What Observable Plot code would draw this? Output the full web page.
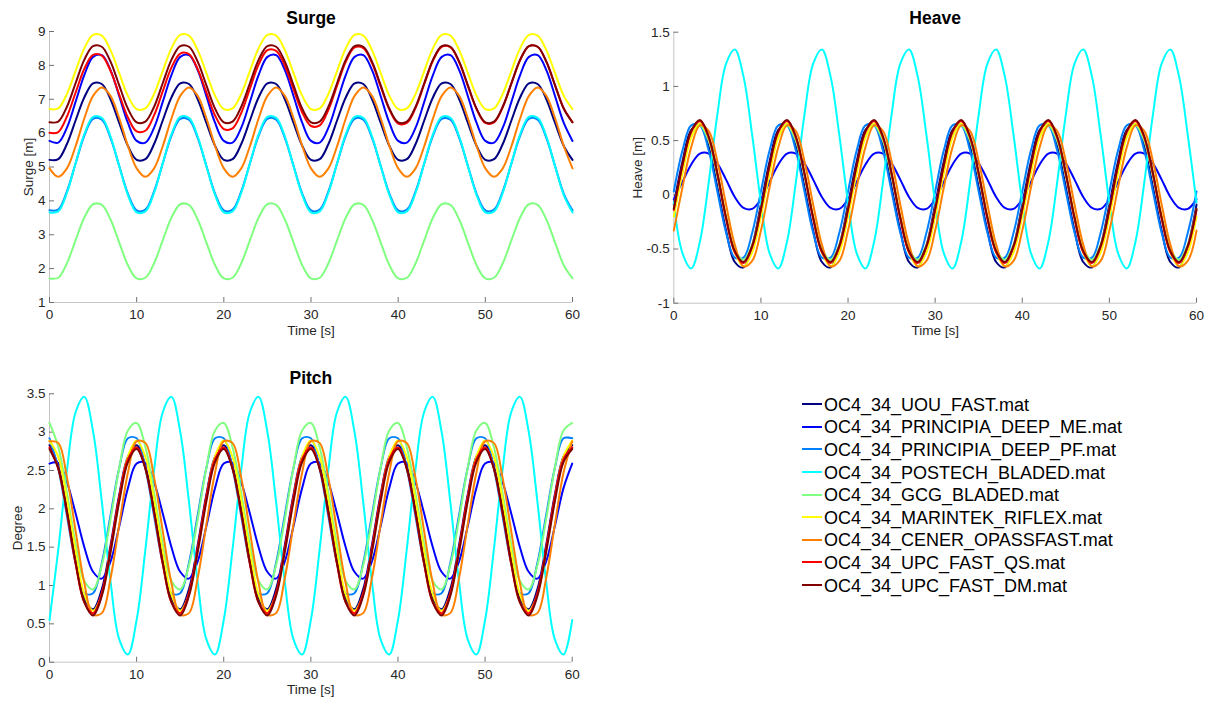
<!DOCTYPE html>
<html>
<head>
<meta charset="utf-8">
<script src="https://cdn.jsdelivr.net/npm/d3@7"></script>
<script src="https://cdn.jsdelivr.net/npm/@observablehq/plot@0.6"></script>
<style>
  html, body { margin: 0; padding: 0; background: #fff; }
  body { width: 1209px; height: 701px; position: relative; overflow: hidden; font-family: "Liberation Sans", Arial, sans-serif; }
  .panel { position: absolute; }
  #legend { position: absolute; left: 802px; top: 394px; font-family: "Liberation Sans", Arial, sans-serif; font-size: 18px; color: #000; }
  .lrow { height: 22.6px; display: flex; align-items: center; white-space: nowrap; }
  .lsw { width: 20px; height: 2px; margin-right: 2px; margin-top: -2px; }
</style>
</head>
<body>
<div id="surge" class="panel" style="left:0px;top:0px"></div>
<div id="heave" class="panel" style="left:610px;top:0px"></div>
<div id="pitch" class="panel" style="left:0px;top:360px"></div>
<div id="legend"></div>
<script>
// ---------- DATA ----------
const time = [0,1,2,3,4,5,6,7,8,9,10,11,12,13,14,15,16,17,18,19,20,21,22,23,24,25,26,27,28,29,30,
  31,32,33,34,35,36,37,38,39,40,41,42,43,44,45,46,47,48,49,50,51,52,53,54,55,56,57,58,59,60];

const seriesNames = [
  "OC4_34_UOU_FAST.mat",
  "OC4_34_PRINCIPIA_DEEP_ME.mat",
  "OC4_34_PRINCIPIA_DEEP_PF.mat",
  "OC4_34_POSTECH_BLADED.mat",
  "OC4_34_GCG_BLADED.mat",
  "OC4_34_MARINTEK_RIFLEX.mat",
  "OC4_34_CENER_OPASSFAST.mat",
  "OC4_34_UPC_FAST_QS.mat",
  "OC4_34_UPC_FAST_DM.mat"
];
const seriesColors = ["#000080", "#0000ff", "#0080ff", "#00ffff", "#80ff80", "#ffff00", "#ff8000", "#ff0000", "#800000"];

const xTicks = [0, 10, 20, 30, 40, 50, 60];
const surgeTicks = [1, 2, 3, 4, 5, 6, 7, 8, 9];
const heaveTicks = [-1, -0.5, 0, 0.5, 1, 1.5];
const pitchTicks = [0, 0.5, 1, 1.5, 2, 2.5, 3, 3.5];

// Surge [m]
const surge_UOU = [
  5.21,5.23,5.68,6.38,7.06,7.47,7.45,7.00,6.30,5.62,
  5.21,5.23,5.68,6.38,7.06,7.47,7.45,7.00,6.30,5.62,
  5.21,5.23,5.68,6.38,7.06,7.47,7.45,7.00,6.30,5.62,
  5.21,5.23,5.68,6.38,7.06,7.47,7.45,7.00,6.30,5.62,
  5.21,5.23,5.68,6.38,7.06,7.47,7.45,7.00,6.30,5.62,
  5.21,5.23,5.68,6.38,7.06,7.47,7.45,7.00,6.30,5.62,
  5.21];
const surge_ME = [
  5.77,5.72,6.16,6.93,7.72,8.25,8.30,7.86,7.09,6.30,
  5.77,5.72,6.16,6.93,7.72,8.25,8.30,7.86,7.09,6.30,
  5.77,5.72,6.16,6.93,7.72,8.25,8.30,7.86,7.09,6.30,
  5.77,5.72,6.16,6.93,7.72,8.25,8.30,7.86,7.09,6.30,
  5.77,5.72,6.16,6.93,7.72,8.25,8.30,7.86,7.09,6.30,
  5.77,5.72,6.16,6.93,7.72,8.25,8.30,7.86,7.09,6.30,
  5.77];
const surge_PF = [
  3.72,3.74,4.28,5.11,5.93,6.42,6.40,5.86,5.03,4.21,
  3.72,3.74,4.28,5.11,5.93,6.42,6.40,5.86,5.03,4.21,
  3.72,3.74,4.28,5.11,5.93,6.42,6.40,5.86,5.03,4.21,
  3.72,3.74,4.28,5.11,5.93,6.42,6.40,5.86,5.03,4.21,
  3.72,3.74,4.28,5.11,5.93,6.42,6.40,5.86,5.03,4.21,
  3.72,3.74,4.28,5.11,5.93,6.42,6.40,5.86,5.03,4.21,
  3.72];
const surge_POSTECH = [
  3.66,3.69,4.24,5.12,5.97,6.48,6.45,5.90,5.02,4.17,
  3.66,3.69,4.24,5.12,5.97,6.48,6.45,5.90,5.02,4.17,
  3.66,3.69,4.24,5.12,5.97,6.48,6.45,5.90,5.02,4.17,
  3.66,3.69,4.24,5.12,5.97,6.48,6.45,5.90,5.02,4.17,
  3.66,3.69,4.24,5.12,5.97,6.48,6.45,5.90,5.02,4.17,
  3.66,3.69,4.24,5.12,5.97,6.48,6.45,5.90,5.02,4.17,
  3.66];
const surge_GCG = [
  1.71,1.73,2.16,2.84,3.51,3.90,3.88,3.45,2.77,2.10,
  1.71,1.73,2.16,2.84,3.51,3.90,3.88,3.45,2.77,2.10,
  1.71,1.73,2.16,2.84,3.51,3.90,3.88,3.45,2.77,2.10,
  1.71,1.73,2.16,2.84,3.51,3.90,3.88,3.45,2.77,2.10,
  1.71,1.73,2.16,2.84,3.51,3.90,3.88,3.45,2.77,2.10,
  1.71,1.73,2.16,2.84,3.51,3.90,3.88,3.45,2.77,2.10,
  1.71];
const surge_MARINTEK = [
  6.71,6.73,7.16,7.84,8.51,8.90,8.88,8.45,7.77,7.10,
  6.71,6.73,7.16,7.84,8.51,8.90,8.88,8.45,7.77,7.10,
  6.71,6.73,7.16,7.84,8.51,8.90,8.88,8.45,7.77,7.10,
  6.71,6.73,7.16,7.84,8.51,8.90,8.88,8.45,7.77,7.10,
  6.71,6.73,7.16,7.84,8.51,8.90,8.88,8.45,7.77,7.10,
  6.71,6.73,7.16,7.84,8.51,8.90,8.88,8.45,7.77,7.10,
  6.71];
const surge_CENER = [
  4.96,4.71,4.96,5.62,6.44,7.10,7.35,7.10,6.44,5.62,
  4.96,4.71,4.96,5.62,6.44,7.10,7.35,7.10,6.44,5.62,
  4.96,4.71,4.96,5.62,6.44,7.10,7.35,7.10,6.44,5.62,
  4.96,4.71,4.96,5.62,6.44,7.10,7.35,7.10,6.44,5.62,
  4.96,4.71,4.96,5.62,6.44,7.10,7.35,7.10,6.44,5.62,
  4.96,4.71,4.96,5.62,6.44,7.10,7.35,7.10,6.44,5.62,
  4.96];
const surge_QS = [
  6.01,6.03,6.49,7.20,7.90,8.31,8.29,7.84,7.14,6.46,
  6.05,6.07,6.53,7.24,7.94,8.35,8.33,7.89,7.20,6.52,
  6.12,6.14,6.60,7.32,8.03,8.45,8.43,7.99,7.29,6.61,
  6.21,6.23,6.69,7.41,8.11,8.53,8.51,8.07,7.37,6.69,
  6.28,6.30,6.75,7.45,8.14,8.55,8.53,8.09,7.39,6.71,
  6.30,6.32,6.77,7.47,8.16,8.57,8.55,8.11,7.41,6.73,
  6.32];
const surge_DM = [
  6.32,6.34,6.78,7.48,8.17,8.57,8.55,8.11,7.41,6.72,
  6.32,6.34,6.78,7.48,8.17,8.57,8.55,8.11,7.41,6.72,
  6.32,6.34,6.78,7.48,8.17,8.57,8.55,8.11,7.41,6.72,
  6.32,6.34,6.78,7.48,8.17,8.57,8.55,8.11,7.41,6.72,
  6.32,6.34,6.78,7.48,8.17,8.57,8.55,8.11,7.41,6.72,
  6.32,6.34,6.78,7.48,8.17,8.57,8.55,8.11,7.41,6.72,
  6.32];

// Heave [m]
const heave_UOU = [
  -0.09,0.31,0.60,0.65,0.45,0.07,-0.33,-0.62,-0.67,-0.47,
  -0.09,0.31,0.60,0.65,0.45,0.07,-0.33,-0.62,-0.67,-0.47,
  -0.09,0.31,0.60,0.65,0.45,0.07,-0.33,-0.62,-0.67,-0.47,
  -0.09,0.31,0.60,0.65,0.45,0.07,-0.33,-0.62,-0.67,-0.47,
  -0.09,0.31,0.60,0.65,0.45,0.07,-0.33,-0.62,-0.67,-0.47,
  -0.09,0.31,0.60,0.65,0.45,0.07,-0.33,-0.62,-0.67,-0.47,
  -0.09];
const heave_ME = [
  -0.04,0.12,0.28,0.38,0.38,0.29,0.14,-0.02,-0.12,-0.13,
  -0.04,0.12,0.28,0.38,0.38,0.29,0.14,-0.02,-0.12,-0.13,
  -0.04,0.12,0.28,0.38,0.38,0.29,0.14,-0.02,-0.12,-0.13,
  -0.04,0.12,0.28,0.38,0.38,0.29,0.14,-0.02,-0.12,-0.13,
  -0.04,0.12,0.28,0.38,0.38,0.29,0.14,-0.02,-0.12,-0.13,
  -0.04,0.12,0.28,0.38,0.38,0.29,0.14,-0.02,-0.12,-0.13,
  -0.04];
const heave_PF = [
  0.03,0.41,0.64,0.64,0.41,0.03,-0.35,-0.58,-0.58,-0.35,
  0.03,0.41,0.64,0.64,0.41,0.03,-0.35,-0.58,-0.58,-0.35,
  0.03,0.41,0.64,0.64,0.41,0.03,-0.35,-0.58,-0.58,-0.35,
  0.03,0.41,0.64,0.64,0.41,0.03,-0.35,-0.58,-0.58,-0.35,
  0.03,0.41,0.64,0.64,0.41,0.03,-0.35,-0.58,-0.58,-0.35,
  0.03,0.41,0.64,0.64,0.41,0.03,-0.35,-0.58,-0.58,-0.35,
  0.03];
const heave_POSTECH = [
  -0.07,-0.54,-0.68,-0.43,0.11,0.74,1.21,1.34,1.09,0.55,
  -0.07,-0.54,-0.68,-0.43,0.11,0.74,1.21,1.34,1.09,0.55,
  -0.07,-0.54,-0.68,-0.43,0.11,0.74,1.21,1.34,1.09,0.55,
  -0.07,-0.54,-0.68,-0.43,0.11,0.74,1.21,1.34,1.09,0.55,
  -0.07,-0.54,-0.68,-0.43,0.11,0.74,1.21,1.34,1.09,0.55,
  -0.07,-0.54,-0.68,-0.43,0.11,0.74,1.21,1.34,1.09,0.55,
  -0.07];
const heave_GCG = [
  -0.13,0.25,0.54,0.64,0.50,0.17,-0.21,-0.50,-0.60,-0.46,
  -0.13,0.25,0.54,0.64,0.50,0.17,-0.21,-0.50,-0.60,-0.46,
  -0.13,0.25,0.54,0.64,0.50,0.17,-0.21,-0.50,-0.60,-0.46,
  -0.13,0.25,0.54,0.64,0.50,0.17,-0.21,-0.50,-0.60,-0.46,
  -0.13,0.25,0.54,0.64,0.50,0.17,-0.21,-0.50,-0.60,-0.46,
  -0.13,0.25,0.54,0.64,0.50,0.17,-0.21,-0.50,-0.60,-0.46,
  -0.13];
const heave_MARINTEK = [
  -0.20,0.20,0.53,0.66,0.53,0.20,-0.20,-0.53,-0.66,-0.53,
  -0.20,0.20,0.53,0.66,0.53,0.20,-0.20,-0.53,-0.66,-0.53,
  -0.20,0.20,0.53,0.66,0.53,0.20,-0.20,-0.53,-0.66,-0.53,
  -0.20,0.20,0.53,0.66,0.53,0.20,-0.20,-0.53,-0.66,-0.53,
  -0.20,0.20,0.53,0.66,0.53,0.20,-0.20,-0.53,-0.66,-0.53,
  -0.20,0.20,0.53,0.66,0.53,0.20,-0.20,-0.53,-0.66,-0.53,
  -0.20];
const heave_CENER = [
  -0.33,0.07,0.44,0.64,0.59,0.31,-0.09,-0.46,-0.66,-0.61,
  -0.33,0.07,0.44,0.64,0.59,0.31,-0.09,-0.46,-0.66,-0.61,
  -0.33,0.07,0.44,0.64,0.59,0.31,-0.09,-0.46,-0.66,-0.61,
  -0.33,0.07,0.44,0.64,0.59,0.31,-0.09,-0.46,-0.66,-0.61,
  -0.33,0.07,0.44,0.64,0.59,0.31,-0.09,-0.46,-0.66,-0.61,
  -0.33,0.07,0.44,0.64,0.59,0.31,-0.09,-0.46,-0.66,-0.61,
  -0.33];
const heave_QS = [
  -0.14,0.27,0.58,0.68,0.53,0.19,-0.22,-0.53,-0.63,-0.48,
  -0.14,0.27,0.58,0.68,0.53,0.19,-0.22,-0.53,-0.63,-0.48,
  -0.14,0.27,0.58,0.68,0.53,0.19,-0.22,-0.53,-0.63,-0.48,
  -0.14,0.27,0.58,0.68,0.53,0.19,-0.22,-0.53,-0.63,-0.48,
  -0.14,0.27,0.58,0.68,0.53,0.19,-0.22,-0.53,-0.63,-0.48,
  -0.14,0.27,0.58,0.68,0.53,0.19,-0.22,-0.53,-0.63,-0.48,
  -0.14];
const heave_DM = [
  -0.13,0.28,0.59,0.69,0.54,0.20,-0.21,-0.52,-0.62,-0.47,
  -0.13,0.28,0.59,0.69,0.54,0.20,-0.21,-0.52,-0.62,-0.47,
  -0.13,0.28,0.59,0.69,0.54,0.20,-0.21,-0.52,-0.62,-0.47,
  -0.13,0.28,0.59,0.69,0.54,0.20,-0.21,-0.52,-0.62,-0.47,
  -0.13,0.28,0.59,0.69,0.54,0.20,-0.21,-0.52,-0.62,-0.47,
  -0.13,0.28,0.59,0.69,0.54,0.20,-0.21,-0.52,-0.62,-0.47,
  -0.13];

// Pitch [deg]
const pitch_UOU = [
  2.83,2.56,1.99,1.33,0.83,0.69,0.95,1.52,2.18,2.68,
  2.83,2.56,1.99,1.33,0.83,0.69,0.95,1.52,2.18,2.68,
  2.83,2.56,1.99,1.33,0.83,0.69,0.95,1.52,2.18,2.68,
  2.83,2.56,1.99,1.33,0.83,0.69,0.95,1.52,2.18,2.68,
  2.83,2.56,1.99,1.33,0.83,0.69,0.95,1.52,2.18,2.68,
  2.83,2.56,1.99,1.33,0.83,0.69,0.95,1.52,2.18,2.68,
  2.83];
const pitch_ME = [
  2.59,2.60,2.35,1.94,1.50,1.18,1.09,1.31,1.77,2.27,
  2.59,2.60,2.35,1.94,1.50,1.18,1.09,1.31,1.77,2.27,
  2.59,2.60,2.35,1.94,1.50,1.18,1.09,1.31,1.77,2.27,
  2.59,2.60,2.35,1.94,1.50,1.18,1.09,1.31,1.77,2.27,
  2.59,2.60,2.35,1.94,1.50,1.18,1.09,1.31,1.77,2.27,
  2.59,2.60,2.35,1.94,1.50,1.18,1.09,1.31,1.77,2.27,
  2.59];
const pitch_PF = [
  2.92,2.53,1.91,1.29,0.90,0.90,1.29,1.91,2.53,2.92,
  2.92,2.53,1.91,1.29,0.90,0.90,1.29,1.91,2.53,2.92,
  2.92,2.53,1.91,1.29,0.90,0.90,1.29,1.91,2.53,2.92,
  2.92,2.53,1.91,1.29,0.90,0.90,1.29,1.91,2.53,2.92,
  2.92,2.53,1.91,1.29,0.90,0.90,1.29,1.91,2.53,2.92,
  2.92,2.53,1.91,1.29,0.90,0.90,1.29,1.91,2.53,2.92,
  2.92];
const pitch_POSTECH = [
  0.55,1.46,2.50,3.26,3.46,3.01,2.10,1.06,0.30,0.10,
  0.55,1.46,2.50,3.26,3.46,3.01,2.10,1.06,0.30,0.10,
  0.55,1.46,2.50,3.26,3.46,3.01,2.10,1.06,0.30,0.10,
  0.55,1.46,2.50,3.26,3.46,3.01,2.10,1.06,0.30,0.10,
  0.55,1.46,2.50,3.26,3.46,3.01,2.10,1.06,0.30,0.10,
  0.55,1.46,2.50,3.26,3.46,3.01,2.10,1.06,0.30,0.10,
  0.55];
const pitch_GCG = [
  3.12,2.81,2.21,1.54,1.06,0.95,1.26,1.86,2.53,3.02,
  3.12,2.81,2.21,1.54,1.06,0.95,1.26,1.86,2.53,3.02,
  3.12,2.81,2.21,1.54,1.06,0.95,1.26,1.86,2.53,3.02,
  3.12,2.81,2.21,1.54,1.06,0.95,1.26,1.86,2.53,3.02,
  3.12,2.81,2.21,1.54,1.06,0.95,1.26,1.86,2.53,3.02,
  3.12,2.81,2.21,1.54,1.06,0.95,1.26,1.86,2.53,3.02,
  3.12];
const pitch_MARINTEK = [
  2.89,2.68,2.12,1.44,0.88,0.67,0.88,1.44,2.12,2.68,
  2.89,2.68,2.12,1.44,0.88,0.67,0.88,1.44,2.12,2.68,
  2.89,2.68,2.12,1.44,0.88,0.67,0.88,1.44,2.12,2.68,
  2.89,2.68,2.12,1.44,0.88,0.67,0.88,1.44,2.12,2.68,
  2.89,2.68,2.12,1.44,0.88,0.67,0.88,1.44,2.12,2.68,
  2.89,2.68,2.12,1.44,0.88,0.67,0.88,1.44,2.12,2.68,
  2.89];
const pitch_CENER = [
  2.88,2.86,2.41,1.71,1.03,0.62,0.64,1.09,1.79,2.47,
  2.88,2.86,2.41,1.71,1.03,0.62,0.64,1.09,1.79,2.47,
  2.88,2.86,2.41,1.71,1.03,0.62,0.64,1.09,1.79,2.47,
  2.88,2.86,2.41,1.71,1.03,0.62,0.64,1.09,1.79,2.47,
  2.88,2.86,2.41,1.71,1.03,0.62,0.64,1.09,1.79,2.47,
  2.88,2.86,2.41,1.71,1.03,0.62,0.64,1.09,1.79,2.47,
  2.88];
const pitch_QS = [
  2.80,2.53,1.95,1.28,0.78,0.64,0.90,1.48,2.15,2.65,
  2.80,2.53,1.95,1.28,0.78,0.64,0.90,1.48,2.15,2.65,
  2.80,2.53,1.95,1.28,0.78,0.64,0.90,1.48,2.15,2.65,
  2.80,2.53,1.95,1.28,0.78,0.64,0.90,1.48,2.15,2.65,
  2.80,2.53,1.95,1.28,0.78,0.64,0.90,1.48,2.15,2.65,
  2.80,2.53,1.95,1.28,0.78,0.64,0.90,1.48,2.15,2.65,
  2.80];
const pitch_DM = [
  2.78,2.53,1.97,1.30,0.78,0.61,0.86,1.43,2.09,2.61,
  2.78,2.53,1.97,1.30,0.78,0.61,0.86,1.43,2.09,2.61,
  2.78,2.53,1.97,1.30,0.78,0.61,0.86,1.43,2.09,2.61,
  2.78,2.53,1.97,1.30,0.78,0.61,0.86,1.43,2.09,2.61,
  2.78,2.53,1.97,1.30,0.78,0.61,0.86,1.43,2.09,2.61,
  2.78,2.53,1.97,1.30,0.78,0.61,0.86,1.43,2.09,2.61,
  2.78];

// ---------- BUILD ----------
function toRows(arrays) {
  return arrays.flatMap((arr, i) => arr.map((v, j) => ({t: time[j], v, s: seriesNames[i]})));
}

const FONT = "'Liberation Sans', Arial, Helvetica, sans-serif";
const TXT = "#262626";

function panel(id, cfg) {
  const {rows, yDomain, yTicks, title, yLabel, width, height, mL, mR, mT, mB, yLabelDx, titleDy} = cfg;
  const plotW = width - mL - mR, plotH = height - mT - mB;
  const fmt = d => String(d);
  const chart = Plot.plot({
    width, height,
    marginLeft: mL, marginRight: mR, marginTop: mT, marginBottom: mB,
    style: {fontFamily: FONT, fontSize: "13.5px", color: TXT, background: "#fff", overflow: "visible"},
    x: {domain: [0, 60]},
    y: {domain: yDomain},
    color: {domain: seriesNames, range: seriesColors},
    marks: [
      Plot.ruleX([0], {stroke: "#c4c4c4", strokeWidth: 1}),
      Plot.ruleY([yDomain[0]], {stroke: "#c4c4c4", strokeWidth: 1}),
      Plot.tickY(yTicks, {y: d => d, insetRight: plotW - 5, stroke: "#707070", strokeWidth: 1}),
      Plot.tickX(xTicks, {x: d => d, insetTop: plotH - 5, stroke: "#707070", strokeWidth: 1}),
      Plot.line(rows, {x: "t", y: "v", z: "s", stroke: "s", strokeWidth: 2, curve: "catmull-rom"}),
      Plot.axisX({ticks: xTicks, tickSize: 0, tickPadding: 7, tickFormat: fmt, label: null, fill: TXT, fontSize: 13.5}),
      Plot.axisY({ticks: yTicks, tickSize: 0, tickPadding: 4, tickFormat: fmt, label: null, fill: TXT, fontSize: 13.5}),
      Plot.text([title], {text: d => d, frameAnchor: "top", dy: titleDy, lineAnchor: "bottom", textAnchor: "middle", fontWeight: "bold", fontSize: 17.5, fill: "#000"}),
      Plot.text(["Time [s]"], {text: d => d, frameAnchor: "bottom", dy: 32, textAnchor: "middle", fontSize: 13.5, fill: TXT}),
      Plot.text([yLabel], {text: d => d, frameAnchor: "left", dx: yLabelDx, rotate: -90, textAnchor: "middle", lineAnchor: "middle", fontSize: 13.5, fill: TXT})
    ]
  });
  document.getElementById(id).appendChild(chart);
}

panel("surge", {
  rows: toRows([surge_UOU, surge_ME, surge_PF, surge_POSTECH, surge_GCG, surge_MARINTEK, surge_CENER, surge_QS, surge_DM]),
  yDomain: [1, 9], yTicks: surgeTicks, title: "Surge", yLabel: "Surge [m]",
  width: 600, height: 345, mL: 49, mR: 28, mT: 31, mB: 43, yLabelDx: -20.7, titleDy: -8
});
panel("heave", {
  rows: toRows([heave_UOU, heave_ME, heave_PF, heave_POSTECH, heave_GCG, heave_MARINTEK, heave_CENER, heave_QS, heave_DM]),
  yDomain: [-1, 1.5], yTicks: heaveTicks, title: "Heave", yLabel: "Heave [m]",
  width: 599, height: 345, mL: 63.3, mR: 13, mT: 31.7, mB: 42.3, yLabelDx: -36.6, titleDy: -8.5
});
panel("pitch", {
  rows: toRows([pitch_UOU, pitch_ME, pitch_PF, pitch_POSTECH, pitch_GCG, pitch_MARINTEK, pitch_CENER, pitch_QS, pitch_DM]),
  yDomain: [0, 3.5], yTicks: pitchTicks, title: "Pitch", yLabel: "Degree",
  width: 600, height: 341, mL: 49, mR: 28.3, mT: 33.3, mB: 39.3, yLabelDx: -32.3, titleDy: -10
});

// Legend
const legend = document.getElementById("legend");
seriesNames.forEach((name, i) => {
  const row = document.createElement("div");
  row.className = "lrow";
  const sw = document.createElement("span");
  sw.className = "lsw";
  sw.style.background = seriesColors[i];
  const tx = document.createElement("span");
  tx.textContent = name;
  row.appendChild(sw);
  row.appendChild(tx);
  legend.appendChild(row);
});
</script>
</body>
</html>
